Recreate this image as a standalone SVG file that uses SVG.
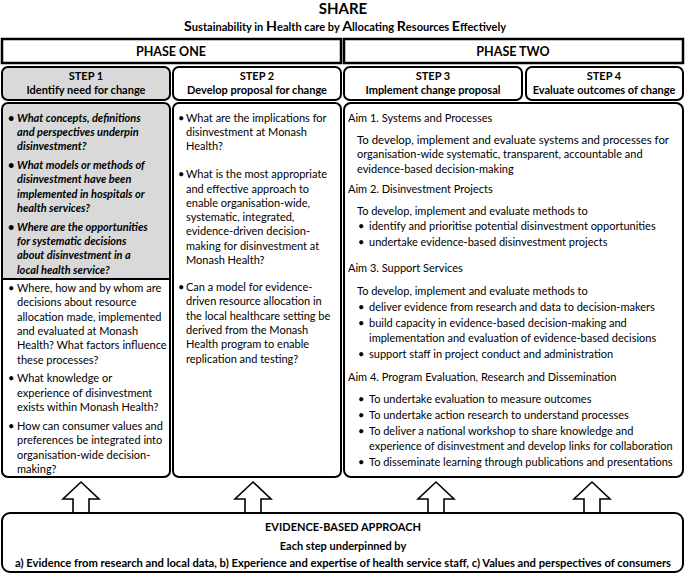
<svg xmlns="http://www.w3.org/2000/svg" width="685" height="574" viewBox="0 0 685 574">
<style>
text{font-family:Lato,"Liberation Sans",sans-serif;fill:#000}
.t{font-size:11px}
.b{font-weight:bold}
.bi{font-weight:bold;font-style:italic}
.c{text-anchor:middle}
.box{fill:#fff;stroke:#000;stroke-width:2}
.ph{fill:#fff;stroke:#000;stroke-width:2.5}
.gray{fill:#d9d9d9}
.arr{fill:#fff;stroke:#000;stroke-width:1.6;stroke-linejoin:miter}
</style>
<g id="title">
<text x="343" y="14" class="b c" font-size="15">SHARE</text>
<text x="345" y="31" class="b c" font-size="10.5" textLength="322" lengthAdjust="spacingAndGlyphs"><tspan font-size="13.5">S</tspan>ustainability in <tspan font-size="13.5">H</tspan>ealth care by <tspan font-size="13.5">A</tspan>llocating <tspan font-size="13.5">R</tspan>esources <tspan font-size="13.5">E</tspan>ffectively</text>
</g>
<g id="phase1">
<rect x="2" y="39" width="339" height="24" class="ph"/>
<text x="171" y="56" class="b c" font-size="12.5">PHASE ONE</text>
</g>
<g id="phase2">
<rect x="344" y="39" width="339" height="24" class="ph"/>
<text x="513" y="56" class="b c" font-size="12.5">PHASE TWO</text>
</g>
<g id="step1">
<rect x="2" y="67" width="168" height="33" rx="6" class="box gray"/>
<text x="86" y="80" class="t b c">STEP 1</text>
<text x="86" y="94" class="t b c">Identify need for change</text>
</g>
<g id="step2">
<rect x="173" y="67" width="168" height="33" rx="6" class="box"/>
<text x="257" y="80" class="t b c">STEP 2</text>
<text x="257" y="94" class="t b c">Develop proposal for change</text>
</g>
<g id="step3">
<rect x="344" y="67" width="178" height="33" rx="6" class="box"/>
<text x="433" y="80" class="t b c">STEP 3</text>
<text x="433" y="94" class="t b c">Implement change proposal</text>
</g>
<g id="step4">
<rect x="526" y="67" width="157" height="33" rx="6" class="box"/>
<text x="604" y="80" class="t b c">STEP 4</text>
<text x="604" y="94" class="t b c">Evaluate outcomes of change</text>
</g>
<g id="content1">
<path d="M8,103 H164 A6,6 0 0 1 170,109 V279 H2 V109 A6,6 0 0 1 8,103 Z" class="gray"/>
<rect x="2" y="103" width="168" height="374" rx="6" fill="none" stroke="#000" stroke-width="2"/>
<line x1="2" y1="279" x2="170" y2="279" stroke="#000" stroke-width="2"/>
<g class="t bi">
<text x="8" y="121.5">•</text>
<text x="17" y="121.5">What concepts, definitions</text>
<text x="17" y="135.8">and perspectives underpin</text>
<text x="17" y="150.1">disinvestment?</text>
<text x="8" y="169">•</text>
<text x="17" y="169">What models or methods of</text>
<text x="17" y="183.3">disinvestment have been</text>
<text x="17" y="197.6">implemented in hospitals or</text>
<text x="17" y="211.9">health services?</text>
<text x="8" y="230.8">•</text>
<text x="17" y="230.8">Where are the opportunities</text>
<text x="17" y="245.1">for systematic decisions</text>
<text x="17" y="259.4">about disinvestment in a</text>
<text x="17" y="273.7">local health service?</text>
</g>
<g class="t">
<text x="8" y="292">•</text>
<text x="17" y="292">Where, how and by whom are</text>
<text x="17" y="306.3">decisions about resource</text>
<text x="17" y="320.6">allocation made, implemented</text>
<text x="17" y="334.9">and evaluated at Monash</text>
<text x="17" y="349.2">Health? What factors influence</text>
<text x="17" y="363.5">these processes?</text>
<text x="8" y="382.4">•</text>
<text x="17" y="382.4">What knowledge or</text>
<text x="17" y="396.7">experience of disinvestment</text>
<text x="17" y="411">exists within Monash Health?</text>
<text x="8" y="429.9">•</text>
<text x="17" y="429.9">How can consumer values and</text>
<text x="17" y="444.2">preferences be integrated into</text>
<text x="17" y="458.5">organisation-wide decision-</text>
<text x="17" y="472.8">making?</text>
</g>
</g>
<g id="content2">
<rect x="173" y="103" width="168" height="374" rx="6" class="box"/>
<g class="t">
<text x="178" y="121.5">•</text>
<text x="186" y="121.5">What are the implications for</text>
<text x="186" y="135.8">disinvestment at Monash</text>
<text x="186" y="150.1">Health?</text>
<text x="178" y="178.2">•</text>
<text x="186" y="178.2">What is the most appropriate</text>
<text x="186" y="192.5">and effective approach to</text>
<text x="186" y="206.8">enable organisation-wide,</text>
<text x="186" y="221.1">systematic, integrated,</text>
<text x="186" y="235.4">evidence-driven decision-</text>
<text x="186" y="249.7">making for disinvestment at</text>
<text x="186" y="264">Monash Health?</text>
<text x="178" y="291">•</text>
<text x="186" y="291">Can a model for evidence-</text>
<text x="186" y="305.3">driven resource allocation in</text>
<text x="186" y="319.6">the local healthcare setting be</text>
<text x="186" y="333.9">derived from the Monash</text>
<text x="186" y="348.2">Health program to enable</text>
<text x="186" y="362.5">replication and testing?</text>
</g>
</g>
<g id="content34">
<rect x="344" y="103" width="339" height="374" rx="7" class="box"/>
<g class="t">
<text x="348" y="122">Aim 1. Systems and Processes</text>
<text x="357" y="143.5" textLength="312" lengthAdjust="spacingAndGlyphs">To develop, implement and evaluate systems and processes for</text>
<text x="357" y="158">organisation-wide systematic, transparent, accountable and</text>
<text x="357" y="172.5">evidence-based decision-making</text>
<text x="348" y="193">Aim 2. Disinvestment Projects</text>
<text x="357" y="214.5">To develop, implement and evaluate methods to</text>
<text x="358" y="230">•</text>
<text x="369" y="230">identify and prioritise potential disinvestment opportunities</text>
<text x="358" y="246">•</text>
<text x="369" y="246">undertake evidence-based disinvestment projects</text>
<text x="348" y="272">Aim 3. Support Services</text>
<text x="357" y="295">To develop, implement and evaluate methods to</text>
<text x="358" y="311">•</text>
<text x="369" y="311">deliver evidence from research and data to decision-makers</text>
<text x="358" y="327">•</text>
<text x="369" y="327">build capacity in evidence-based decision-making and</text>
<text x="369" y="342">implementation and evaluation of evidence-based decisions</text>
<text x="358" y="358">•</text>
<text x="369" y="358">support staff in project conduct and administration</text>
<text x="348" y="381">Aim 4. Program Evaluation, Research and Dissemination</text>
<text x="358" y="403">•</text>
<text x="369" y="403">To undertake evaluation to measure outcomes</text>
<text x="358" y="419">•</text>
<text x="369" y="419">To undertake action research to understand processes</text>
<text x="358" y="435">•</text>
<text x="369" y="435">To deliver a national workshop to share knowledge and</text>
<text x="369" y="450">experience of disinvestment and develop links for collaboration</text>
<text x="358" y="466">•</text>
<text x="369" y="466">To disseminate learning through publications and presentations</text>
</g>
</g>
<g id="connectors">
<path d="M73,513 V499 H63 L81,482 L99,499 H89 V513" class="arr"/>
<path d="M245,513 V499 H235 L253,482 L271,499 H261 V513" class="arr"/>
<path d="M428,513 V499 H418 L436,482 L454,499 H444 V513" class="arr"/>
<path d="M584,513 V499 H574 L592,482 L610,499 H600 V513" class="arr"/>
</g>
<g id="evidence">
<rect x="2" y="513" width="681" height="59" rx="8" class="box"/>
<text x="343" y="531" class="t b c">EVIDENCE-BASED APPROACH</text>
<text x="343" y="550" class="t b c">Each step underpinned by</text>
<text x="343" y="567" class="t b c" textLength="656" lengthAdjust="spacingAndGlyphs">a) Evidence from research and local data,  b) Experience and expertise of health service staff, c) Values and perspectives of consumers</text>
</g>
</svg>
